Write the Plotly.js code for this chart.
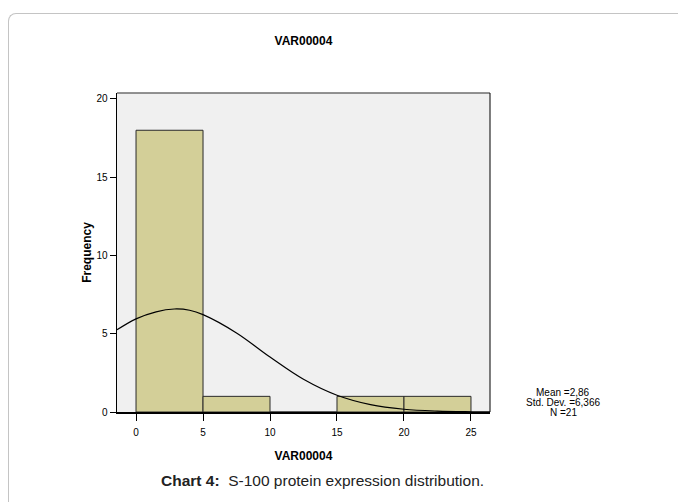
<!DOCTYPE html>
<html>
<head>
<meta charset="utf-8">
<script src="https://cdn.plot.ly/plotly-3.0.1.min.js"></script>
<style>
  html, body { margin: 0; padding: 0; background: #ffffff; }
  #wrap { position: relative; width: 678px; height: 502px; overflow: hidden; }
  #frame { position: absolute; left: 8px; top: 13px; width: 700px; height: 520px;
           border-left: 1.5px solid #c4c4c4; border-top: 1.5px solid #c4c4c4;
           border-top-left-radius: 8px; box-sizing: border-box; }
  #chart { position: absolute; left: 0; top: 0; width: 678px; height: 502px; }
</style>
</head>
<body>
<div id="wrap">
  <div id="frame"></div>
  <div id="chart"></div>
</div>
<script>
// Histogram bins (VAR00004)
var binCenters = [2.5, 7.5, 12.5, 17.5, 22.5];
var binWidths = [5, 5, 5, 5, 5];
var frequencies = [18, 1, 0, 1, 1];

// Normal curve
var curveX = [-1.42, 0, 1.5, 2.86, 4, 5, 7.5, 10, 12.5, 15, 17.5, 20, 22.5, 25, 26.42];
var curveY = [5.25, 5.95, 6.4, 6.58, 6.5, 6.22, 5.05, 3.51, 2.09, 1.07, 0.47, 0.175, 0.056, 0.016, 0.006];

var xTicks = [0, 5, 10, 15, 20, 25];
var yTicks = [0, 5, 10, 15, 20];

var statsLines = ["Mean =2,86", "Std. Dev. =6,366", "N =21"];
var chartTitle = "VAR00004";
var xTitle = "VAR00004";
var yTitle = "Frequency";
var caption = "<b>Chart 4:</b>  S-100 protein expression distribution.";

var traces = [
  {
    type: "bar",
    x: binCenters,
    y: frequencies,
    width: binWidths,
    marker: { color: "#d3cf98", line: { color: "#2a2a2a", width: 1 } },
    hoverinfo: "skip"
  },
  {
    type: "scatter",
    mode: "lines",
    x: curveX,
    y: curveY,
    line: { color: "#000000", width: 1.2, shape: "spline" },
    hoverinfo: "skip"
  }
];

var annotations = statsLines.map(function (t, i) {
  return {
    xref: "paper", yref: "paper",
    x: (563 - 117) / 373, y: (412 - (392 + i * 10.5)) / 319,
    xanchor: "center", yanchor: "middle",
    showarrow: false,
    text: t,
    font: { size: 10, color: "#000" }
  };
});
annotations.push({
  xref: "paper", yref: "paper",
  x: (322 - 117) / 373, y: (412 - 480) / 319,
  xanchor: "center", yanchor: "middle",
  showarrow: false,
  text: caption,
  font: { size: 15.5, color: "#222" }
});

var layout = {
  width: 678,
  height: 502,
  margin: { l: 117, r: 188, t: 93, b: 90, pad: 0 },
  paper_bgcolor: "rgba(0,0,0,0)",
  plot_bgcolor: "#f0f0f0",
  showlegend: false,
  bargap: 0,
  font: { family: "Liberation Sans, Arial, sans-serif", color: "#000000", size: 10 },
  title: {
    text: "<b>" + chartTitle + "</b>",
    font: { size: 12, family: "Liberation Sans, Arial, sans-serif", color: "#000" },
    x: 0.4476, xanchor: "center", xref: "container",
    y: 1 - 41 / 502, yanchor: "middle", yref: "container"
  },
  xaxis: {
    range: [-1.42, 26.42],
    tickvals: xTicks,
    ticktext: xTicks.map(String),
    ticks: "outside",
    ticklen: 7,
    tickwidth: 1,
    tickcolor: "#000",
    ticklabelstandoff: 3,
    showgrid: false,
    zeroline: false,
    showline: true,
    linecolor: "#000",
    linewidth: 1.5,
    tickfont: { size: 10 },
    title: { text: "<b>" + xTitle + "</b>", font: { size: 12 }, standoff: 15 },
    fixedrange: true
  },
  yaxis: {
    range: [0, 20.38],
    tickvals: yTicks,
    ticktext: yTicks.map(String),
    ticks: "outside",
    ticklen: 6,
    tickwidth: 1,
    tickcolor: "#000",
    showgrid: false,
    zeroline: false,
    showline: true,
    linecolor: "#000",
    linewidth: 1.5,
    tickfont: { size: 10 },
    title: { text: "<b>" + yTitle + "</b>", font: { size: 12 }, standoff: 2 },
    fixedrange: true
  },
  shapes: [
    { type: "line", xref: "paper", yref: "paper", x0: 0, x1: 1, y0: 1, y1: 1,
      line: { color: "#6e6e6e", width: 1.5 } },
    { type: "line", xref: "paper", yref: "paper", x0: 1, x1: 1, y0: 0, y1: 1,
      line: { color: "#000", width: 1 } }
  ],
  annotations: annotations
};

Plotly.newPlot("chart", traces, layout, { displayModeBar: false, staticPlot: true });
</script>
</body>
</html>
